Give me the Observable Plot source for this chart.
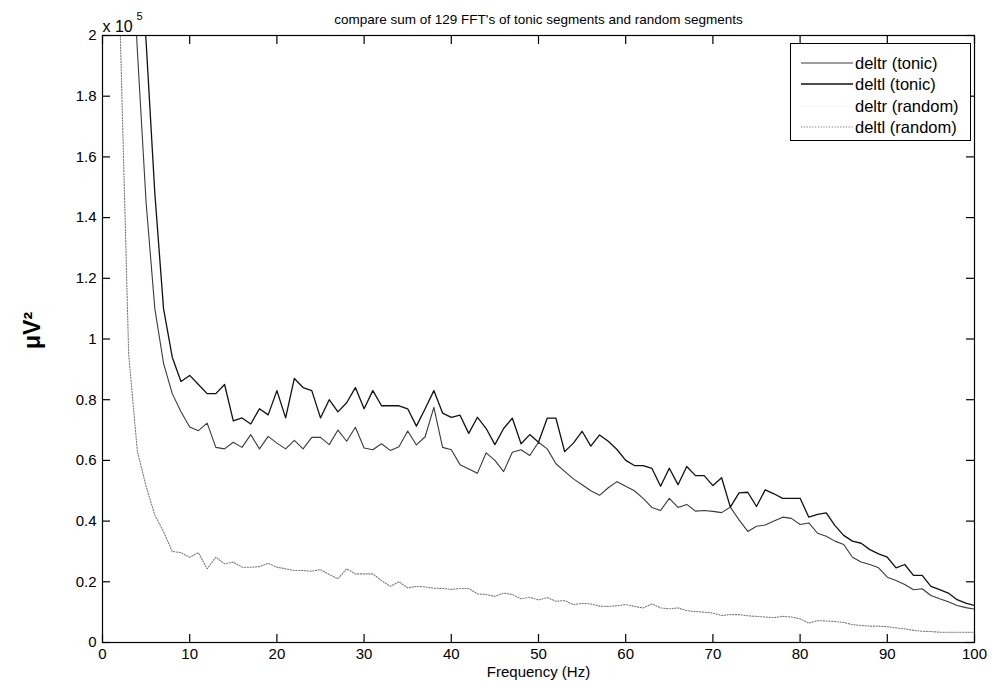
<!DOCTYPE html>
<html>
<head>
<meta charset="utf-8">
<script src="https://cdn.jsdelivr.net/npm/d3@7"></script>
<script src="https://cdn.jsdelivr.net/npm/@observablehq/plot@0.6"></script>
<style>
  body { margin: 0; background: #fff; font-family: "Liberation Sans", Arial, Helvetica, sans-serif; }
  #wrap { position: relative; width: 992px; height: 687px; }
  #legend { position: absolute; left: 790px; top: 43px; width: 181px; height: 98px; border: 1px solid #000;
            background: #fff; box-sizing: border-box; }
  .row { position: absolute; left: 0; height: 20px; width: 100%; }
  .row svg { position: absolute; left: 10px; top: 0; }
  .row span { position: absolute; left: 64px; top: 0; line-height: 20px; font-size: 16.5px; color: #000; white-space: nowrap; }
</style>
</head>
<body>
<div id="wrap"></div>
<script>
// Frequency bins (Hz)
const freqHz = Array.from({length: 100}, (_, i) => i + 1);

// Values in units of 10^5 µV^2, one per frequency bin 1..100 Hz
const deltlTonic = [
  4.2, 3.6, 2.9, 2.4, 1.98, 1.48, 1.10, 0.94, 0.86, 0.88,
  0.85, 0.82, 0.82, 0.85, 0.73, 0.74, 0.72, 0.77, 0.75, 0.83,
  0.74, 0.87, 0.84, 0.83, 0.74, 0.80, 0.76, 0.79, 0.84, 0.77,
  0.83, 0.78, 0.78, 0.78, 0.77, 0.713, 0.77, 0.83, 0.756, 0.742,
  0.749, 0.689, 0.742, 0.705, 0.652, 0.705, 0.739, 0.655, 0.685, 0.66,
  0.739, 0.739, 0.629, 0.657, 0.696, 0.647, 0.684, 0.663, 0.636, 0.60,
  0.583, 0.583, 0.574, 0.515, 0.574, 0.52, 0.58, 0.55, 0.55, 0.517,
  0.543, 0.446, 0.493, 0.495, 0.448, 0.503, 0.49, 0.475, 0.475, 0.475,
  0.413, 0.422, 0.427, 0.385, 0.353, 0.334, 0.327, 0.306, 0.292, 0.281,
  0.246, 0.257, 0.221, 0.221, 0.185, 0.174, 0.163, 0.141, 0.13, 0.122
];
const deltrTonic = [
  3.8, 3.2, 2.5, 1.95, 1.45, 1.10, 0.92, 0.82, 0.76, 0.71,
  0.698, 0.723, 0.643, 0.638, 0.66, 0.643, 0.685, 0.638, 0.679, 0.657,
  0.638, 0.666, 0.638, 0.676, 0.676, 0.652, 0.70, 0.663, 0.709, 0.641,
  0.635, 0.655, 0.633, 0.645, 0.697, 0.651, 0.678, 0.775, 0.643, 0.635,
  0.586, 0.572, 0.558, 0.625, 0.60, 0.563, 0.627, 0.635, 0.616, 0.66,
  0.638, 0.589, 0.564, 0.539, 0.52, 0.50, 0.485, 0.51, 0.53, 0.515,
  0.50, 0.475, 0.445, 0.435, 0.475, 0.445, 0.455, 0.433, 0.435, 0.432,
  0.428, 0.446, 0.404, 0.366, 0.383, 0.387, 0.40, 0.413, 0.409, 0.389,
  0.394, 0.36, 0.35, 0.334, 0.323, 0.281, 0.265, 0.257, 0.246, 0.215,
  0.204, 0.191, 0.174, 0.177, 0.155, 0.144, 0.134, 0.122, 0.115, 0.11
];
const deltlRandom = [
  4.0, 2.05, 0.95, 0.63, 0.515, 0.42, 0.365, 0.30, 0.296, 0.281,
  0.296, 0.243, 0.281, 0.259, 0.265, 0.248, 0.248, 0.25, 0.261, 0.248,
  0.243, 0.237, 0.237, 0.235, 0.24, 0.224, 0.21, 0.243, 0.226, 0.226,
  0.226, 0.204, 0.185, 0.20, 0.18, 0.185, 0.183, 0.179, 0.178, 0.175,
  0.178, 0.178, 0.16, 0.158, 0.152, 0.163, 0.158, 0.144, 0.149, 0.14,
  0.148, 0.136, 0.138, 0.125, 0.129, 0.127, 0.12, 0.119, 0.121, 0.125,
  0.119, 0.114, 0.127, 0.114, 0.111, 0.114, 0.105, 0.102, 0.10, 0.097,
  0.089, 0.092, 0.092, 0.088, 0.086, 0.084, 0.082, 0.086, 0.084, 0.078,
  0.064, 0.072, 0.071, 0.069, 0.066, 0.059, 0.056, 0.054, 0.054, 0.052,
  0.048, 0.045, 0.04, 0.037, 0.036, 0.034, 0.034, 0.034, 0.034, 0.034
];

const xTicks = [0, 10, 20, 30, 40, 50, 60, 70, 80, 90, 100];
const yTicks = [0, 0.2, 0.4, 0.6, 0.8, 1, 1.2, 1.4, 1.6, 1.8, 2];
const legendLabels = ["deltr (tonic)", "deltl (tonic)", "deltr (random)", "deltl (random)"];
const titleText = "compare sum of 129 FFT's of tonic segments and random segments";
const xLabel = "Frequency (Hz)";
const yLabel = "\u03bcV\u00b2";
const expBase = "x 10";
const expPow = "5";

const W = 992, H = 687, mL = 102, mR = 18, mT = 35, mB = 45;
const innerW = W - mL - mR, innerH = H - mT - mB, tickLen = 8;

const toRows = (vals) => vals.map((v, i) => ({f: freqHz[i], v}));
const yFmt = d => String(+d.toFixed(1));
const blank = () => "";

const chart = Plot.plot({
  width: W,
  height: H,
  marginLeft: mL,
  marginRight: mR,
  marginTop: mT,
  marginBottom: mB,
  style: {fontFamily: "Liberation Sans, Arial, Helvetica, sans-serif", fontSize: "15px", background: "#fff", color: "#000"},
  x: {domain: [0, 100]},
  y: {domain: [0, 2]},
  marks: [
    Plot.line(toRows(deltlRandom), {x: "f", y: "v", stroke: "#7a7a7a", strokeWidth: 1.1, strokeDasharray: "1.2,1.6", clip: true}),
    Plot.line(toRows(deltrTonic), {x: "f", y: "v", stroke: "#3a3a3a", strokeWidth: 1.1, clip: true}),
    Plot.line(toRows(deltlTonic), {x: "f", y: "v", stroke: "#111", strokeWidth: 1.3, clip: true}),
    // inward ticks on all four sides
    Plot.axisX(xTicks, {anchor: "bottom", tickSize: tickLen, dy: -tickLen, tickFormat: blank, label: null, stroke: "#000", strokeWidth: 1.2}),
    Plot.axisX(xTicks, {anchor: "top", tickSize: tickLen, dy: tickLen, tickFormat: blank, label: null, stroke: "#000", strokeWidth: 1.2}),
    Plot.tickY(yTicks, {y: d => d, insetRight: innerW - tickLen, stroke: "#000", strokeWidth: 1.2}),
    Plot.tickY(yTicks, {y: d => d, insetLeft: innerW - tickLen, stroke: "#000", strokeWidth: 1.2}),
    Plot.frame({stroke: "#000", strokeWidth: 1.2}),
    Plot.axisX(xTicks, {anchor: "bottom", tickSize: 0, tickPadding: 6, label: null, tickFormat: d => String(d), fontSize: 15}),
    Plot.axisY(yTicks, {anchor: "left", tickSize: 0, tickPadding: 6, label: null, tickFormat: yFmt, fontSize: 15}),
    Plot.text([titleText], {text: d => d, frameAnchor: "top", dy: -21, fontSize: 13.5}),
    Plot.text([xLabel], {text: d => d, frameAnchor: "bottom", dy: 34, fontSize: 15}),
    Plot.text([yLabel], {text: d => d, frameAnchor: "left", dx: -70, dy: 10, rotate: -90, fontSize: 23, fontWeight: "bold"}),
    Plot.text([expBase], {text: d => d, frameAnchor: "top-left", dx: 0, dy: -15, textAnchor: "start", fontSize: 16}),
    Plot.text([expPow], {text: d => d, frameAnchor: "top-left", dx: 34, dy: -23, textAnchor: "start", fontSize: 11})
  ]
});

const wrap = document.getElementById("wrap");
wrap.appendChild(chart);

// Legend box
const legendStyles = [
  {stroke: "#3a3a3a", dash: null, w: 1.1},
  {stroke: "#111", dash: null, w: 1.3},
  {stroke: "#f4f4f4", dash: null, w: 1},
  {stroke: "#7a7a7a", dash: "1.2,1.6", w: 1.1}
];
const legend = document.createElement("div");
legend.id = "legend";
legendLabels.forEach((lab, i) => {
  const row = document.createElement("div");
  row.className = "row";
  row.style.top = (9 + i * 21.3) + "px";
  const s = legendStyles[i];
  row.innerHTML = `<svg width="52" height="20"><line x1="0" y1="10" x2="52" y2="10" stroke="${s.stroke}" stroke-width="${s.w}" ${s.dash ? `stroke-dasharray="${s.dash}"` : ""}/></svg><span>${lab}</span>`;
  legend.appendChild(row);
});
wrap.appendChild(legend);
</script>
</body>
</html>
